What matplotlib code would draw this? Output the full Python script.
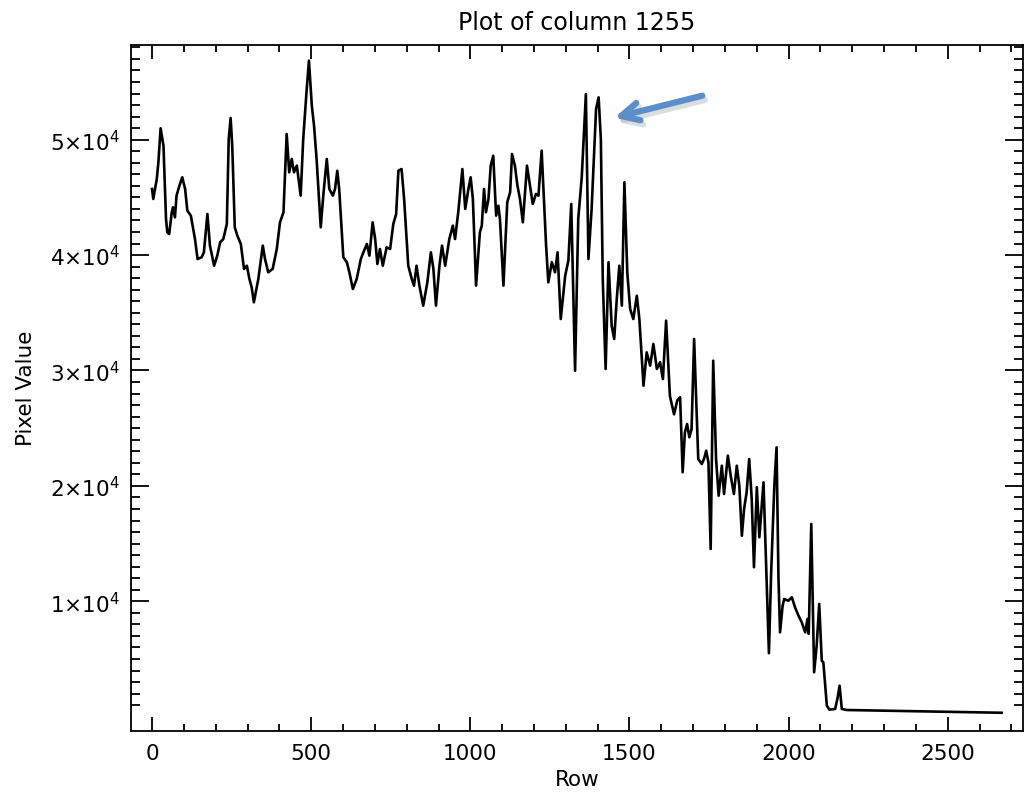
import matplotlib
matplotlib.use('Agg')
import matplotlib.pyplot as plt
import numpy as np

# column profile
rows = [0, 4, 15, 20, 27, 36, 44, 48, 54, 62, 66, 72, 77, 86, 95, 104, 111, 122, 135, 143,
        156, 163, 174, 182, 195, 205, 214, 224, 235, 241, 247, 252, 260, 268, 279, 289, 298, 306, 313, 320,
        334, 348, 355, 365, 379, 392, 402, 413, 423, 431, 439, 446, 455, 467, 475, 486, 493, 502, 509, 517,
        530, 538, 549, 557, 568, 575, 582, 588, 601, 612, 620, 631, 643, 656, 664, 675, 683, 693, 701, 708,
        716, 725, 737, 748, 758, 767, 774, 784, 792, 805, 816, 823, 831, 840, 852, 865, 876, 884, 892, 903,
        911, 921, 934, 945, 952, 962, 975, 984, 994, 1001, 1008, 1018, 1030, 1036, 1043, 1049, 1057, 1064, 1072, 1081,
        1088, 1093, 1104, 1116, 1125, 1131, 1140, 1148, 1156, 1165, 1178, 1196, 1206, 1214, 1224, 1238, 1245, 1256, 1266, 1274,
        1284, 1298, 1308, 1317, 1329, 1339, 1350, 1363, 1371, 1381, 1395, 1403, 1410, 1416, 1425, 1434, 1444, 1452, 1460, 1468,
        1476, 1484, 1493, 1502, 1512, 1523, 1531, 1544, 1554, 1565, 1575, 1586, 1596, 1605, 1615, 1627, 1640, 1650, 1659, 1667,
        1674, 1681, 1688, 1695, 1703, 1716, 1727, 1734, 1741, 1748, 1755, 1763, 1772, 1780, 1790, 1797, 1809, 1818, 1828, 1837,
        1845, 1853, 1860, 1868, 1876, 1884, 1891, 1900, 1908, 1921, 1938, 1945, 1955, 1962, 1968, 1973, 1981, 1986, 1999, 2010,
        2020, 2031, 2041, 2052, 2059, 2063, 2071, 2080, 2088, 2096, 2104, 2109, 2120, 2128, 2146, 2153, 2160, 2167, 2182, 2300,
        2392, 2500, 2600, 2669]
pixel = [45730, 44860, 46600, 48040, 50990, 49480, 43130, 41980, 41830, 43710, 44140, 43270, 45150, 46010, 46740, 45730, 43850, 43420, 41390, 39660,
         39810, 40240, 43560, 40820, 39080, 39950, 41110, 41390, 42690, 50060, 51880, 49480, 42410, 41680, 40960, 38800, 39080, 37930, 37210, 35910,
         37930, 40820, 39660, 38510, 38800, 40530, 42840, 43710, 50490, 47170, 48330, 47170, 47750, 45150, 50060, 54390, 56850, 52950, 51210, 48330,
         42410, 45150, 48330, 45730, 45150, 45730, 47310, 45730, 39810, 39380, 38510, 37060, 37930, 39660, 40240, 40960, 39950, 42840, 41390, 39230,
         40530, 39080, 40670, 40530, 42690, 43560, 47310, 47460, 44860, 39080, 37930, 37350, 39080, 37350, 35620, 37640, 40240, 38800, 35620, 39080,
         40820, 39080, 41390, 42550, 41390, 43710, 47460, 44000, 45730, 46740, 44860, 37350, 41980, 42550, 45730, 43710, 44860, 47750, 48610, 43420,
         44280, 43130, 37350, 44580, 45440, 48760, 47750, 46010, 44860, 42840, 47750, 44430, 45300, 45150, 49050, 40820, 37640, 39380, 38510, 40240,
         34460, 38220, 39520, 44430, 29980, 43130, 46740, 53960, 39660, 44000, 52660, 53670, 50060, 37930, 30130, 39380, 33880, 32730, 36200, 39080,
         35620, 46310, 38510, 35330, 34460, 36480, 34460, 28680, 31570, 30420, 32300, 30130, 30710, 29260, 34320, 27790, 26200, 27400, 27680, 21180,
         24640, 25360, 24210, 24930, 32730, 22330, 21900, 22330, 23050, 22040, 14530, 30850, 22330, 19150, 21750, 19300, 22620, 20880, 19300, 21750,
         20020, 15680, 18000, 19450, 22330, 18860, 12950, 19880, 15550, 20310, 5500, 12500, 20000, 23340, 12000, 7310, 9620, 10200, 10050, 10350,
         9480, 8750, 8180, 7310, 8470, 7170, 16700, 3850, 6150, 9770, 4850, 4710, 950, 610, 670, 1530, 2690, 670, 580, 520,
         470, 420, 370, 340]

ytick_vals = [10000, 20000, 30000, 40000, 50000]
ytick_text = [r'$1{\times}10^{4}$', r'$2{\times}10^{4}$', r'$3{\times}10^{4}$', r'$4{\times}10^{4}$', r'$5{\times}10^{4}$']
xtick_vals = [0, 500, 1000, 1500, 2000, 2500]

plt.rcParams['font.family'] = ['DejaVu Sans']
plt.rcParams['mathtext.fontset'] = 'dejavusans'

fig = plt.figure(figsize=(10.25, 8.03), dpi=100)
ax = fig.add_axes([0.1275, 0.0888, 0.8708, 0.8543])

ax.plot(rows, pixel, color='black', lw=1.9)

ax.set_xlim(-67, 2737)
ax.set_ylim(-1213, 58232)

ax.set_xticks(xtick_vals)
ax.set_xticks(np.arange(100, 2701, 100), minor=True)
ax.set_yticks(ytick_vals)
ax.set_yticklabels(ytick_text)
ymin = [v for v in range(1000, 58001, 1000) if v % 10000 != 0]
ax.set_yticks(ymin, minor=True)

ax.tick_params(which='both', direction='in', top=True, right=True, width=1.3, labelsize=15.5)
ax.tick_params(axis='x', which='major', length=10, pad=9)
ax.tick_params(axis='x', which='minor', length=5.3)
ax.tick_params(axis='y', which='major', length=12.7, pad=8)
ax.tick_params(axis='y', which='minor', length=6.3)
for s in ax.spines.values():
    s.set_linewidth(1.3)

ax.set_title('Plot of column 1255', fontsize=17, pad=11)
ax.set_xlabel('Row', fontsize=15.5, labelpad=4)
ax.set_ylabel('Pixel Value', fontsize=15.5, labelpad=10)

# blue arrow pointing at the double peak, with a faint shadow under it
ax.annotate('', xy=(1452, 51500), xytext=(1745, 53500),
            arrowprops=dict(arrowstyle='->', color='#b0b4ba', lw=4.5, alpha=0.45, mutation_scale=32))
ax.annotate('', xy=(1444, 51850), xytext=(1737, 53870),
            arrowprops=dict(arrowstyle='->', color='#5b8fcb', lw=4.5, mutation_scale=32))

plt.savefig('out.png', dpi=100)
